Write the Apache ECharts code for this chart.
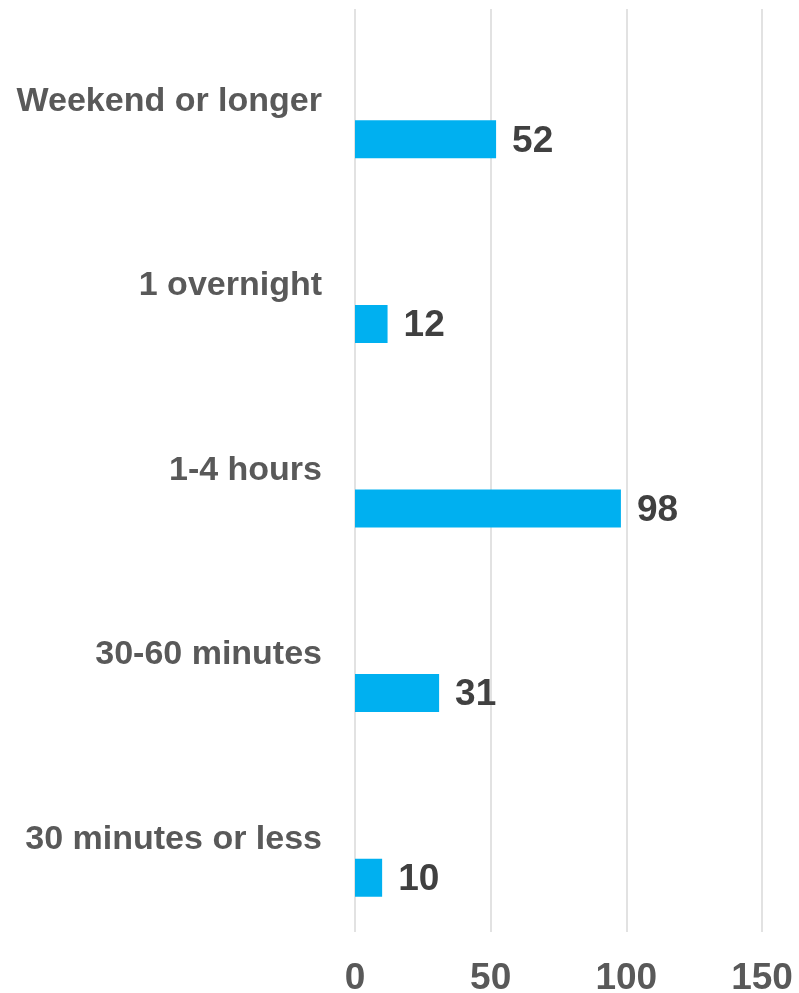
<!DOCTYPE html>
<html>
<head>
<meta charset="utf-8">
<script src="https://cdn.jsdelivr.net/npm/echarts@6/dist/echarts.min.js"></script>
<style>
html,body{margin:0;padding:0;background:#fff;}
#main{width:799px;height:993px;}
</style>
</head>
<body>
<div id="main"></div>
<script>
const categories = ["Weekend or longer", "1 overnight", "1-4 hours", "30-60 minutes", "30 minutes or less"];
const values = [52, 12, 98, 31, 10];
const emptySeries = [null, null, null, null, null];
const xTicks = { min: 0, max: 150, interval: 50 };

const chart = echarts.init(document.getElementById('main'), null, { renderer: 'canvas' });
const FONT = '"Liberation Sans", Arial, sans-serif';
chart.setOption({
  animation: false,
  backgroundColor: '#ffffff',
  grid: { left: 355, right: 37, top: 9, bottom: 61, containLabel: false, outerBoundsMode: 'none' },
  xAxis: {
    type: 'value',
    min: xTicks.min, max: xTicks.max, interval: xTicks.interval,
    axisLine: { show: false },
    axisTick: { show: false },
    splitLine: { show: true, lineStyle: { color: '#d9d9d9', width: 1.5 } },
    axisLabel: { margin: 28, fontSize: 37, fontWeight: 'bold', color: '#595959', fontFamily: FONT }
  },
  yAxis: {
    type: 'category',
    data: categories,
    inverse: true,
    axisLine: { show: false },
    axisTick: { show: false },
    splitLine: { show: false },
    axisLabel: { margin: 33, fontSize: 34, fontWeight: 'bold', color: '#595959', fontFamily: FONT }
  },
  series: [
    {
      type: 'bar',
      data: emptySeries,
      barWidth: 38,
      barGap: '100%',
      itemStyle: { color: 'transparent' },
      silent: true
    },
    {
      type: 'bar',
      data: values,
      barWidth: 38,
      barGap: '100%',
      itemStyle: { color: '#00b0f0' },
      label: {
        show: true, position: 'right', distance: 16, offset: [0, 2],
        fontSize: 37, fontWeight: 'bold', color: '#404040', fontFamily: FONT
      }
    }
  ]
});
</script>
</body>
</html>
